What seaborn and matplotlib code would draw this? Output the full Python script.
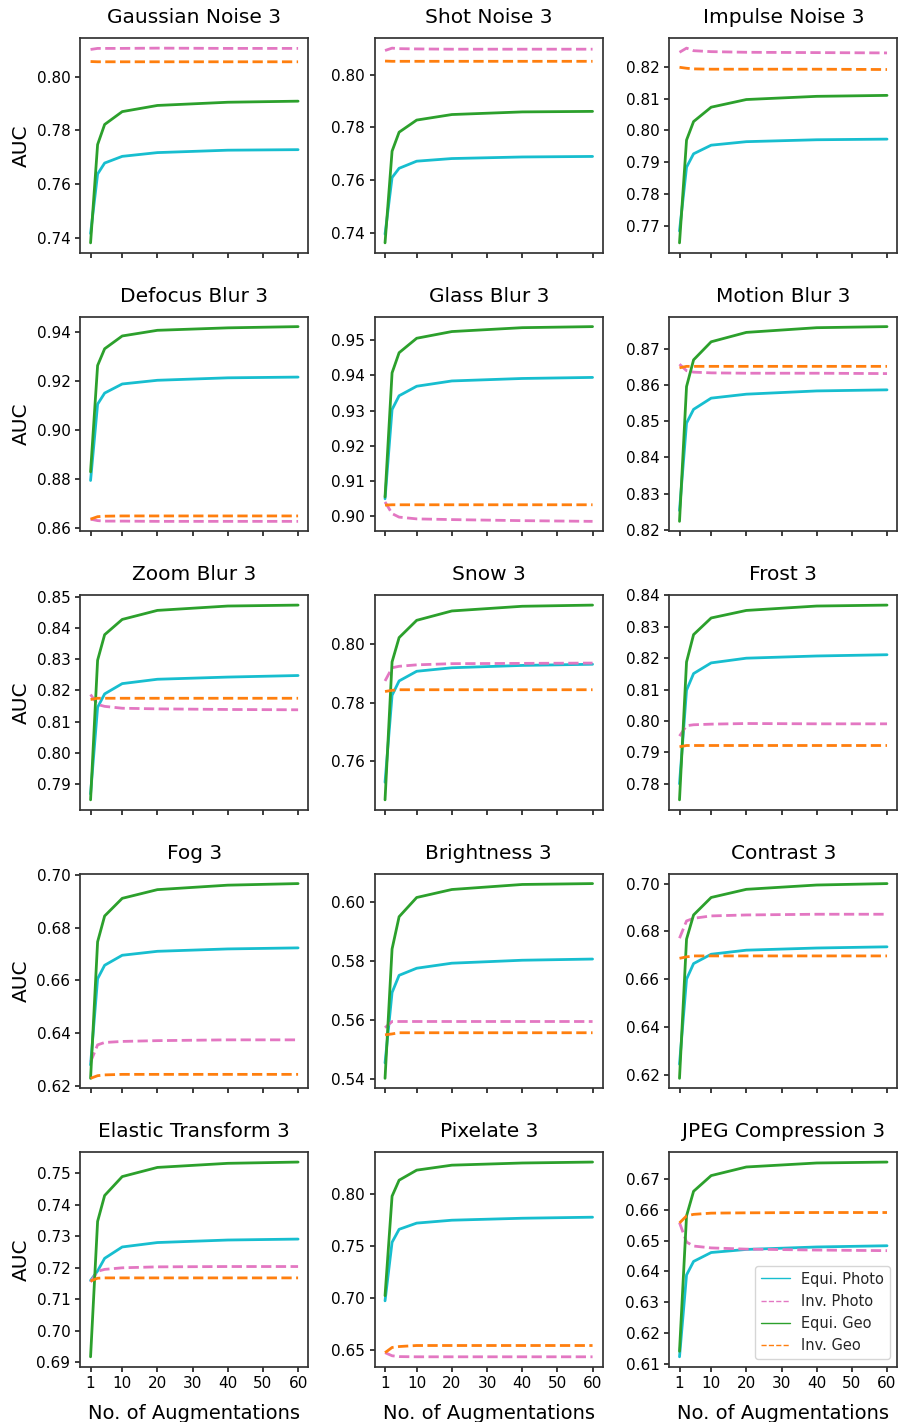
import matplotlib
matplotlib.use("Agg")
import matplotlib.pyplot as plt
from matplotlib.lines import Line2D
import seaborn as sns
import pandas as pd

# number of augmentations on the x axis
n_aug = [1, 3, 5, 10, 20, 40, 60]

titles = ["Gaussian Noise 3", "Shot Noise 3", "Impulse Noise 3",
          "Defocus Blur 3", "Glass Blur 3", "Motion Blur 3",
          "Zoom Blur 3", "Snow 3", "Frost 3",
          "Fog 3", "Brightness 3", "Contrast 3",
          "Elastic Transform 3", "Pixelate 3", "JPEG Compression 3"]

# AUC per corruption, one list per method
equi_photo = [
    [0.7415, 0.7637, 0.7678, 0.7703, 0.7717, 0.7726, 0.7728],
    [0.7395, 0.7610, 0.7645, 0.7672, 0.7682, 0.7688, 0.7690],
    [0.7685, 0.7885, 0.7927, 0.7954, 0.7965, 0.7971, 0.7973],
    [0.8795, 0.9105, 0.9150, 0.9187, 0.9202, 0.9212, 0.9215],
    [0.9050, 0.9303, 0.9342, 0.9369, 0.9384, 0.9391, 0.9394],
    [0.8253, 0.8495, 0.8533, 0.8564, 0.8575, 0.8584, 0.8587],
    [0.7868, 0.8146, 0.8189, 0.8222, 0.8236, 0.8243, 0.8248],
    [0.7529, 0.7826, 0.7875, 0.7908, 0.7920, 0.7928, 0.7932],
    [0.7800, 0.8098, 0.8151, 0.8185, 0.8200, 0.8207, 0.8211],
    [0.6279, 0.6606, 0.6657, 0.6695, 0.6710, 0.6719, 0.6723],
    [0.5455, 0.5693, 0.5751, 0.5775, 0.5792, 0.5802, 0.5806],
    [0.6246, 0.6601, 0.6666, 0.6705, 0.6722, 0.6731, 0.6736],
    [0.7160, 0.7190, 0.7230, 0.7266, 0.7280, 0.7288, 0.7291],
    [0.6970, 0.7535, 0.7660, 0.7720, 0.7748, 0.7767, 0.7777],
    [0.6122, 0.6388, 0.6432, 0.6461, 0.6471, 0.6479, 0.6483],
]
inv_photo = [
    [0.8102, 0.8106, 0.8106, 0.8106, 0.8107, 0.8106, 0.8106],
    [0.8092, 0.8101, 0.8099, 0.8098, 0.8097, 0.8097, 0.8097],
    [0.8245, 0.8258, 0.8250, 0.8247, 0.8245, 0.8244, 0.8243],
    [0.8638, 0.8632, 0.8630, 0.8630, 0.8629, 0.8629, 0.8629],
    [0.9041, 0.9008, 0.8998, 0.8993, 0.8991, 0.8988, 0.8986],
    [0.8658, 0.8640, 0.8636, 0.8634, 0.8633, 0.8633, 0.8632],
    [0.8187, 0.8155, 0.8149, 0.8143, 0.8141, 0.8139, 0.8138],
    [0.7875, 0.7920, 0.7925, 0.7930, 0.7934, 0.7935, 0.7936],
    [0.7952, 0.7985, 0.7988, 0.7990, 0.7992, 0.7991, 0.7991],
    [0.6290, 0.6355, 0.6364, 0.6368, 0.6371, 0.6374, 0.6374],
    [0.5574, 0.5595, 0.5595, 0.5595, 0.5595, 0.5595, 0.5595],
    [0.6772, 0.6844, 0.6855, 0.6865, 0.6869, 0.6872, 0.6872],
    [0.7155, 0.7189, 0.7195, 0.7200, 0.7203, 0.7204, 0.7204],
    [0.6470, 0.6440, 0.6432, 0.6430, 0.6430, 0.6430, 0.6430],
    [0.6558, 0.6495, 0.6482, 0.6476, 0.6472, 0.6469, 0.6467],
]
equi_geo = [
    [0.7380, 0.7747, 0.7822, 0.7870, 0.7893, 0.7905, 0.7909],
    [0.7362, 0.7710, 0.7782, 0.7828, 0.7849, 0.7859, 0.7861],
    [0.7648, 0.7970, 0.8028, 0.8073, 0.8097, 0.8107, 0.8110],
    [0.8830, 0.9262, 0.9330, 0.9382, 0.9405, 0.9415, 0.9420],
    [0.9055, 0.9407, 0.9464, 0.9505, 0.9524, 0.9535, 0.9538],
    [0.8223, 0.8596, 0.8670, 0.8720, 0.8746, 0.8759, 0.8762],
    [0.7849, 0.8297, 0.8379, 0.8428, 0.8457, 0.8471, 0.8474],
    [0.7469, 0.7940, 0.8023, 0.8082, 0.8114, 0.8130, 0.8134],
    [0.7749, 0.8188, 0.8275, 0.8328, 0.8352, 0.8366, 0.8369],
    [0.6228, 0.6746, 0.6844, 0.6911, 0.6944, 0.6961, 0.6967],
    [0.5403, 0.5840, 0.5949, 0.6014, 0.6041, 0.6058, 0.6061],
    [0.6187, 0.6768, 0.6869, 0.6942, 0.6976, 0.6994, 0.7000],
    [0.6918, 0.7347, 0.7429, 0.7489, 0.7518, 0.7531, 0.7535],
    [0.7020, 0.7980, 0.8134, 0.8231, 0.8279, 0.8300, 0.8309],
    [0.6140, 0.6580, 0.6660, 0.6711, 0.6739, 0.6752, 0.6755],
]
inv_geo = [
    [0.8057, 0.8056, 0.8056, 0.8056, 0.8056, 0.8056, 0.8056],
    [0.8052, 0.8051, 0.8051, 0.8051, 0.8051, 0.8051, 0.8051],
    [0.8198, 0.8195, 0.8193, 0.8192, 0.8192, 0.8192, 0.8191],
    [0.8638, 0.8648, 0.8650, 0.8651, 0.8651, 0.8651, 0.8651],
    [0.9032, 0.9033, 0.9033, 0.9033, 0.9033, 0.9033, 0.9033],
    [0.8648, 0.8652, 0.8652, 0.8652, 0.8652, 0.8652, 0.8652],
    [0.8171, 0.8175, 0.8175, 0.8175, 0.8175, 0.8175, 0.8175],
    [0.7839, 0.7843, 0.7845, 0.7845, 0.7845, 0.7845, 0.7845],
    [0.7918, 0.7922, 0.7922, 0.7922, 0.7922, 0.7922, 0.7922],
    [0.6228, 0.6238, 0.6241, 0.6243, 0.6243, 0.6243, 0.6243],
    [0.5550, 0.5553, 0.5557, 0.5557, 0.5557, 0.5557, 0.5557],
    [0.6688, 0.6694, 0.6698, 0.6698, 0.6698, 0.6698, 0.6698],
    [0.7158, 0.7167, 0.7168, 0.7168, 0.7168, 0.7168, 0.7168],
    [0.6470, 0.6520, 0.6529, 0.6539, 0.6539, 0.6539, 0.6539],
    [0.6557, 0.6580, 0.6585, 0.6589, 0.6590, 0.6591, 0.6591],
]

methods = ["Equi. Photo", "Inv. Photo", "Equi. Geo", "Inv. Geo"]
colors = ["#17becf", "#e377c2", "#2ca02c", "#ff7f0e"]
styles = ["-", "--", "-", "--"]

sns.set_theme(style="ticks", rc={"xtick.major.size": 3.5, "ytick.major.size": 3.5,
                                 "axes.edgecolor": "#333333"})
plt.rcParams['font.family'] = ['DejaVu Sans']

fig, axes = plt.subplots(5, 3, figsize=(9.01, 14.22), dpi=100)
fig.subplots_adjust(left=0.089, right=0.996, top=0.973, bottom=0.039,
                    wspace=0.29, hspace=0.30)

for i, ax in enumerate(axes.flat):
    series = [equi_photo[i], inv_photo[i], equi_geo[i], inv_geo[i]]
    for name, vals, c, ls in zip(methods, series, colors, styles):
        df = pd.DataFrame({"n": n_aug, "auc": vals})
        sns.lineplot(data=df, x="n", y="auc", color=c, linestyle=ls,
                     linewidth=2, ax=ax, legend=False)
    ax.set_title(titles[i], fontsize=14.5, pad=11, color="black")
    ax.set_xticks([1, 10, 20, 30, 40, 50, 60])
    ax.tick_params(labelsize=11, labelcolor="black")
    ax.set_xlabel("")
    ax.set_ylabel("")
    if i % 3 == 0:
        ax.set_ylabel("AUC", fontsize=14.5, labelpad=4, color="black")
    if i >= 12:
        ax.set_xlabel("No. of Augmentations", fontsize=14, labelpad=9, color="black")
    else:
        ax.set_xticklabels([])

handles = [Line2D([0], [0], color=c, linestyle=ls, linewidth=1)
           for c, ls in zip(colors, styles)]
axes[-1, -1].legend(handles, methods, loc="lower right", fontsize=10.5)

plt.savefig("out.png", dpi=100)
